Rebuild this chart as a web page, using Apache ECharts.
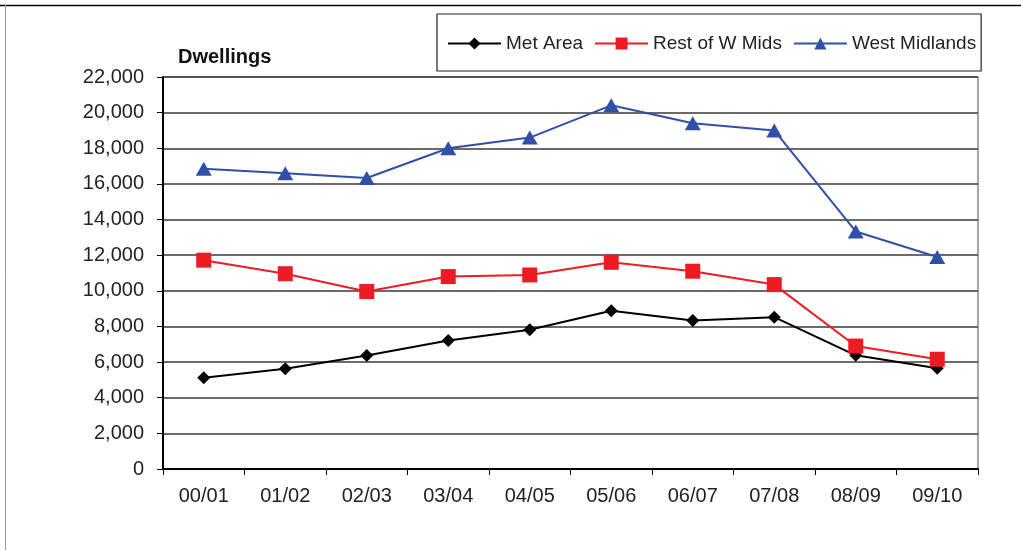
<!DOCTYPE html>
<html>
<head>
<meta charset="utf-8">
<style>
  html, body { margin: 0; padding: 0; background: #fff; }
  #chart { width: 1021px; height: 550px; }
</style>
<script src="https://cdn.jsdelivr.net/npm/echarts@6/dist/echarts.min.js"></script>
</head>
<body>
<div id="chart"></div>
<script>
// Housing completions (dwellings) by financial year
const years = ['00/01', '01/02', '02/03', '03/04', '04/05', '05/06', '06/07', '07/08', '08/09', '09/10'];
const metArea = [5120, 5630, 6370, 7210, 7820, 8880, 8340, 8520, 6380, 5660];
const restOfWMids = [11720, 10960, 9960, 10800, 10890, 11600, 11100, 10350, 6900, 6160];
const westMidlands = [16850, 16600, 16330, 18000, 18600, 20410, 19400, 19000, 13330, 11900];
const yTicks = { min: 0, max: 22000, step: 2000 };

const FONT = '"Liberation Sans", Arial, sans-serif';
const chart = echarts.init(document.getElementById('chart'));

function lineSeries(name, data, color, symbol, size) {
  return {
    name, type: 'line', data,
    symbol, symbolSize: size,
    showSymbol: true,
    lineStyle: { color, width: 2 },
    itemStyle: { color, borderWidth: 0 },
    emphasis: { disabled: true },
    animation: false
  };
}

chart.setOption({
  animation: false,
  textStyle: { fontFamily: FONT },
  graphic: [
    { type: 'line', shape: { x1: 0, y1: 5.5, x2: 1021, y2: 5.5 }, style: { stroke: '#000', lineWidth: 1.5 } },
    { type: 'line', shape: { x1: 5.5, y1: 5, x2: 5.5, y2: 550 }, style: { stroke: '#999', lineWidth: 1 } },
    { type: 'text', left: 178, top: 47, style: { text: 'Dwellings', font: 'bold 20px ' + FONT, fill: '#111' } }
  ],
  legend: {
    left: 437, top: 14,
    padding: [20, 5, 18, 10],
    borderColor: '#222', borderWidth: 1.2,
    itemWidth: 53, itemHeight: 15, itemGap: 11,
    textStyle: { fontFamily: FONT, fontSize: 19, color: '#222' },
    data: ['Met Area', 'Rest of W Mids', 'West Midlands']
  },
  grid: {
    left: 163, right: 43, top: 77, bottom: 81,
    show: true, borderColor: '#888', borderWidth: 1.5
  },
  xAxis: {
    type: 'category', data: years, boundaryGap: true,
    axisLine: { lineStyle: { color: '#000', width: 2 } },
    axisTick: { show: true, interval: 0, length: 6, lineStyle: { color: '#000', width: 1 } },
    axisLabel: { interval: 0, margin: 17, fontSize: 20, color: '#222', fontFamily: FONT },
    splitLine: { show: false }
  },
  yAxis: {
    type: 'value', min: yTicks.min, max: yTicks.max, interval: yTicks.step,
    axisLine: { show: true, lineStyle: { color: '#000', width: 2 } },
    axisTick: { show: true, length: 6, lineStyle: { color: '#000', width: 1 } },
    axisLabel: {
      margin: 19, fontSize: 20, color: '#222', fontFamily: FONT,
      formatter: v => v.toLocaleString('en-GB')
    },
    splitLine: { show: true, lineStyle: { color: '#3a3a3a', width: 1.5 } }
  },
  series: [
    lineSeries('Met Area', metArea, '#000000', 'diamond', 13),
    lineSeries('Rest of W Mids', restOfWMids, '#ED1C24', 'rect', 15),
    lineSeries('West Midlands', westMidlands, '#3050A8', 'triangle', [16, 14])
  ]
});
</script>
</body>
</html>
